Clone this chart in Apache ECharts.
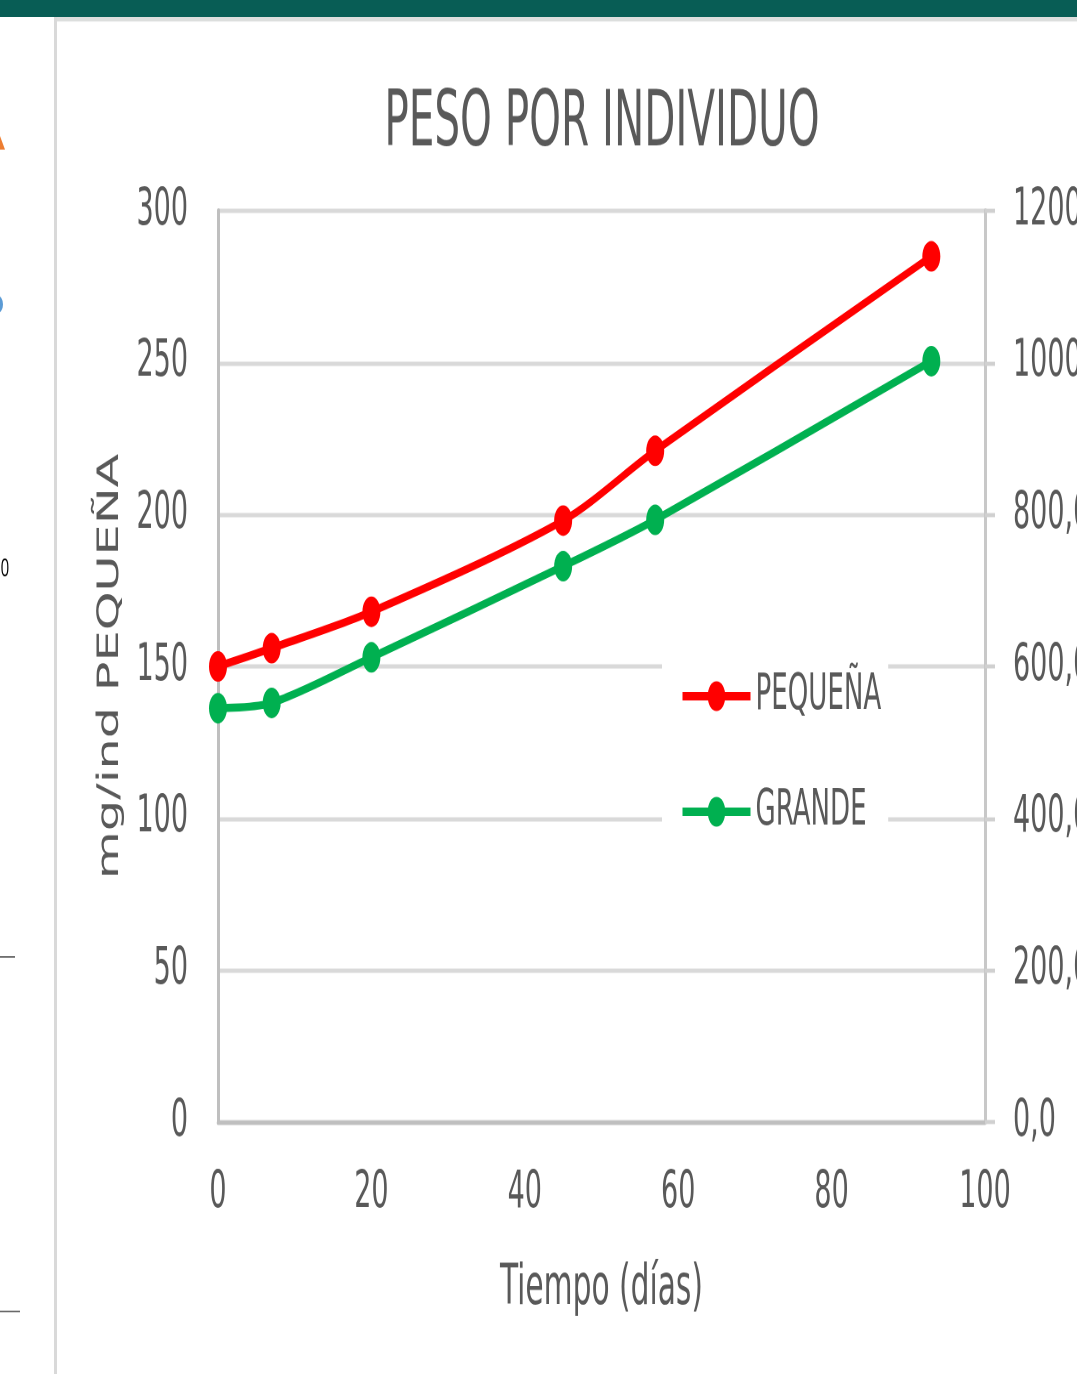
<!DOCTYPE html>
<html>
<head>
<meta charset="utf-8">
<script src="https://cdn.jsdelivr.net/npm/echarts@6/dist/echarts.min.js"></script>
<style>
  html, body { margin: 0; padding: 0; background: #ffffff; }
  body { width: 1077px; height: 1374px; overflow: visible; }
  #chart { width: 1077px; height: 808px; transform: scaleY(1.7); transform-origin: 0 0; }
</style>
</head>
<body>
<div id="chart"></div>
<script>
// ---- data ----
const titleText = 'PESO POR INDIVIDUO';
const xAxisName = 'Tiempo (días)';
const yAxisName = 'mg/ind PEQUEÑA';
const seriesNames = ['PEQUEÑA', 'GRANDE'];
const dias = [0, 7, 20, 45, 57, 93];
const pequena = [150, 156, 168, 198, 221, 285];       // left axis (mg/ind)
const grande = [545, 552, 612, 732, 793, 1002];       // right axis
const xTicks = [0, 20, 40, 60, 80, 100];
const yLeftTicks = [0, 50, 100, 150, 200, 250, 300];
const yRightTicks = [0, 200, 400, 600, 800, 1000, 1200];

const narrow = "'Liberation Sans Narrow', 'DejaVu Sans Condensed', 'Open Sans', sans-serif";
const txt = '#595959';

const chart = echarts.init(document.getElementById('chart'), null, { devicePixelRatio: 2 });

const option = {
  backgroundColor: '#ffffff',
  animation: false,
  title: {
    text: titleText,
    left: 597, top: 69, textAlign: 'center', textVerticalAlign: 'middle',
    textStyle: { fontFamily: narrow, fontSize: 45, fontWeight: 'normal', color: txt }
  },
  grid: { left: 218, right: 92, top: 124, bottom: 148, containLabel: false, outerBoundsMode: 'none' },
  legend: {
    orient: 'vertical',
    left: 662, top: 381,
    backgroundColor: '#ffffff',
    padding: [14, 7, 16, 18],
    itemWidth: 68, itemHeight: 22, itemGap: 39,
    lineStyle: { width: 5 },
    textStyle: { fontFamily: narrow, fontSize: 29, color: txt, lineHeight: 28 },
    data: seriesNames
  },
  xAxis: {
    type: 'value', min: xTicks[0], max: xTicks[xTicks.length - 1], interval: 20,
    name: xAxisName, nameLocation: 'middle', nameGap: 82,
    nameTextStyle: { fontFamily: narrow, fontSize: 33, color: txt },
    axisLine: { show: true, onZero: false, lineStyle: { color: '#bfbfbf', width: 2.5 } },
    axisTick: { show: false },
    splitLine: { show: false },
    axisLabel: { margin: 27, fontFamily: narrow, fontSize: 30, color: txt }
  },
  yAxis: [
    {
      type: 'value', min: 0, max: 300, interval: 50,
      name: yAxisName, nameLocation: 'middle', nameGap: 93, nameRotate: 90,
      nameTextStyle: { fontFamily: "'DejaVu Sans', sans-serif", fontSize: 29, color: txt },
      axisLine: { show: true, lineStyle: { color: '#bfbfbf', width: 3 } },
      axisTick: { show: false },
      splitLine: { show: true, lineStyle: { color: '#d9d9d9', width: 2.4 } },
      axisLabel: { margin: 30, fontFamily: narrow, fontSize: 30, color: txt }
    },
    {
      type: 'value', min: 0, max: 1200, interval: 200, position: 'right',
      axisLine: { show: true, lineStyle: { color: '#c8c8c8', width: 3 } },
      axisTick: { show: true, length: 10, lineStyle: { color: '#d0d0d0', width: 2.4 } },
      splitLine: { show: false },
      axisLabel: {
        margin: 28, fontFamily: narrow, fontSize: 30, color: txt,
        formatter: v => v.toFixed(1).replace('.', ',')
      }
    }
  ],
  series: [
    {
      name: seriesNames[0], type: 'line', yAxisIndex: 0,
      data: dias.map((d, i) => [d, pequena[i]]),
      smooth: 0.3, symbol: 'circle', symbolSize: 18,
      itemStyle: { color: '#ff0000' },
      lineStyle: { color: '#ff0000', width: 4.8 },
      z: 3
    },
    {
      name: seriesNames[1], type: 'line', yAxisIndex: 1,
      data: dias.map((d, i) => [d, grande[i]]),
      smooth: 0.3, symbol: 'circle', symbolSize: 18,
      itemStyle: { color: '#00b050' },
      lineStyle: { color: '#00b050', width: 4.8 },
      z: 3
    }
  ],
  graphic: [
    { type: 'rect', left: 0, top: 0, shape: { width: 1077, height: 10 }, style: { fill: '#085d55' }, silent: true },
    { type: 'rect', left: 55, top: 10, shape: { width: 1022, height: 2.6 }, style: { fill: '#dcdedd' }, silent: true },
    { type: 'rect', left: 54, top: 10, shape: { width: 3, height: 800 }, style: { fill: '#d9d9d9' }, silent: true },
    { type: 'polygon', shape: { points: [[-6, 88], [0, 80], [5, 88]] }, style: { fill: '#ed7d31' }, silent: true },
    { type: 'circle', shape: { cx: -2, cy: 179, r: 5 }, style: { fill: '#5b9bd5' }, silent: true },
    { type: 'text', left: -8, top: 327, style: { text: '50', fontSize: 15, fill: '#000000', fontFamily: "'Open Sans', sans-serif" }, silent: true },
    { type: 'rect', left: 0, top: 562.5, shape: { width: 15, height: 0.8 }, style: { fill: '#404040' }, silent: true },
    { type: 'rect', left: 0, top: 771, shape: { width: 20, height: 0.8 }, style: { fill: '#404040' }, silent: true }
  ]
};
chart.setOption(option);
</script>
</body>
</html>
